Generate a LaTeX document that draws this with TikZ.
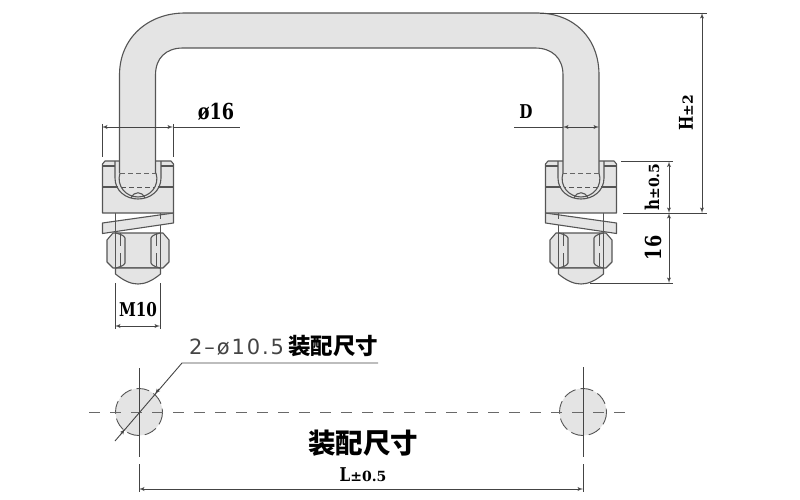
\documentclass[tikz,border=0pt]{standalone}
\usepackage{fontspec}
\usepackage{tikz}
\usetikzlibrary{arrows}
\usetikzlibrary{positioning}
\newfontfamily\dimfont[FakeStretch=0.8]{DejaVu Serif}
\newfontfamily\tolfont{DejaVu Serif}
\newfontfamily\thinfont[LetterSpace=9]{DejaVu Sans}
\newfontfamily\cjkfont{Noto Sans CJK SC}
\definecolor{partfill}{HTML}{E4E4E4}
\definecolor{partline}{HTML}{555555}
\definecolor{dimline}{HTML}{444444}
\tikzstyle{part} = [draw=partline, fill=partfill, line width=1.1pt, line join=round]
\tikzstyle{edge} = [draw=partline, line width=1.1pt]
\tikzstyle{hidden} = [draw=partline, line width=0.9pt, dash pattern=on 5pt off 3pt]
\tikzstyle{dim} = [draw=dimline, line width=0.9pt]
\tikzstyle{centre} = [draw=dimline!80, line width=1pt, dash pattern=on 11pt off 10pt]
\tikzstyle{label} = [inner sep=0pt, text=black, font=\dimfont\bfseries\fontsize{19}{19}\selectfont]
\tikzstyle{cjk} = [inner sep=0pt, text=black, font=\cjkfont\bfseries]
\newcommand{\tol}[1]{{\tolfont\fontsize{14}{14}\selectfont #1}}
% One clamp with nut; xscale=-1 mirrors it for the right side
\newcommand{\clampset}[2]{
  \begin{scope}[shift={(#1,0)}, xscale=#2]
    \path [part] (-31,240) -- (-25,233) -- (25,233) -- (31,240) -- (31,262) -- (25,268) -- (-25,268) -- (-31,262) -- cycle;
    \path [part] (-22.5,268) -- (-22.5,274) .. controls (-14,281) and (-7,284) .. (0,284) .. controls (7,284) and (14,281) .. (22.5,274) -- (22.5,268) -- cycle;
    \path [edge] (-22,233) .. controls (-19,234) and (-14,235) .. (-13,238) -- (-13,263) .. controls (-14,266) and (-19,267) .. (-22,268);
    \path [edge] (22,233) .. controls (19,234) and (14,235) .. (13,238) -- (13,263) .. controls (14,266) and (19,267) .. (22,268);
    \path [edge] (-22.5,213) -- (-22.5,268);
    \path [edge] (22.5,213) -- (22.5,268);
    \path [hidden, dash pattern=on 13pt off 7pt] (-18,233) -- (-18,268);
    \path [hidden, dash pattern=on 13pt off 7pt] (18,233) -- (18,268);
    \path [part] (-35.5,223) -- (35.5,213) -- (35.5,223) -- (-35.5,233.5) -- cycle;
    \path [edge] (-22.5,213) -- (-22.5,233);
    \path [edge] (22.5,213) -- (22.5,219);
    % block with the socket for the tube
    \path [part] (-35.5,164) -- (-33,161) -- (33,161) -- (35.5,164) -- (35.5,213) -- (-35.5,213) -- cycle;
    \path [edge] (-35.5,166) -- (-23,166);
    \path [edge] (23,166) -- (35.5,166);
    \path [edge] (-35.5,187) -- (-20,187);
    \path [edge] (20,187) -- (35.5,187);
    \path [hidden] (-17,187) -- (17,187);
    \path [edge] (-23,161) -- (-23,178) .. controls (-23,191) and (-12,199) .. (0,199) .. controls (12,199) and (23,191) .. (23,178) -- (23,161);
    \path [edge] (-18,173) .. controls (-22,186) and (-12,197) .. (0,197) .. controls (12,197) and (22,186) .. (18,173);
    \path [edge] (-7,198) .. controls (-4,191) and (4,191) .. (7,198);
    \path [hidden] (-18,173) -- (18,173);
  \end{scope}
}

\begin{document}
\begin{tikzpicture}[x=1pt, y=-1pt, >=latex']
    \useasboundingbox (0,0) rectangle (800,500);

    % We start with the two clamps and the tube over them
    \clampset{138}{1}
    \clampset{581}{-1}
    \path [fill=partfill] (119.5,173) -- (119.5,75) .. controls (119.5,38) and (148,13) .. (185,13) -- (537,13) .. controls (574,13) and (599,38) .. (599,75) -- (599,173) -- (563,173) -- (563,75) .. controls (563,58) and (552,48) .. (535,48) -- (183,48) .. controls (166,48) and (155.5,58) .. (155.5,75) -- (155.5,173) -- cycle;
    \path [edge] (119.5,173) -- (119.5,75) .. controls (119.5,38) and (148,13) .. (185,13) -- (537,13) .. controls (574,13) and (599,38) .. (599,75) -- (599,173);
    \path [edge] (155.5,173) -- (155.5,75) .. controls (155.5,58) and (166,48) .. (183,48) -- (535,48) .. controls (552,48) and (563,58) .. (563,75) -- (563,173);

    % The mounting holes below
    \node [circle, fill=partfill, minimum size=47pt, inner sep=0pt] (holeL) at (139,412) {};
    \node [circle, fill=partfill, minimum size=47pt, inner sep=0pt] (holeR) at (583,412) {};
    \draw [hidden, dash pattern=on 13pt off 5pt] (139,412) circle (23.5);
    \draw [hidden, dash pattern=on 13pt off 5pt] (583,412) circle (23.5);
    \coordinate (axisA) at (89,412);
    \coordinate (axisB) at (628,412);
    \draw [centre] (axisA) -- (axisB);

    \coordinate (holeLtop) at (139,368);
    \coordinate (holeLbot) at (139,457);
    \coordinate (extLa) at (139,464);
    \coordinate (extLb) at (139,492);
    \coordinate (holeRtop) at (583,367);
    \coordinate (holeRbot) at (583,457);
    \coordinate (extRa) at (583,464);
    \coordinate (extRb) at (583,492);
    \draw [dim] (holeLtop) -- (holeLbot);
    \draw [dim] (extLa) -- (extLb);
    \draw [dim] (holeRtop) -- (holeRbot);
    \draw [dim] (extRa) -- (extRb);

    \coordinate (dimLa) at (139,489);
    \coordinate (dimLb) at (583,489);
    \draw [dim, <->] (dimLa) -- (dimLb);
    \node [cjk, font=\cjkfont\bfseries\fontsize{27.5}{27.5}\selectfont] (fitText) at (363,443) {装配尺寸};
    \node [label, below=11pt of fitText] (lenText) {L\tol{±0.5}};

    % Leader for the hole size
    \coordinate (leadA) at (115,441);
    \coordinate (leadB) at (182,363);
    \coordinate (leadC) at (378,363);
    \draw [dim] (leadA) -- (leadB) -- (leadC);
    \draw [dim, ->] (121,434) -- (125,429);
    \draw [dim, ->] (159,389) -- (155,394);
    \node [inner sep=0pt, anchor=base west, font=\thinfont\fontsize{21}{21}\selectfont, text=dimline] (holeText) at (189,354) {2–ø10.5};
    \node [cjk, font=\cjkfont\bfseries\fontsize{22.5}{22.5}\selectfont, anchor=west] (holeFit) at (288,346) {装配尺寸};

    % Tube diameter
    \coordinate (dAa) at (102,124);
    \coordinate (dAb) at (102,157);
    \coordinate (dBa) at (173,124);
    \coordinate (dBb) at (173,157);
    \coordinate (dEnd) at (240,127);
    \draw [dim] (dAa) -- (dAb);
    \draw [dim] (dBa) -- (dBb);
    \draw [dim, <->] (102,127) -- (173,127);
    \draw [dim] (173,127) -- (dEnd);
    \node [label, font=\dimfont\bfseries\fontsize{22}{22}\selectfont] (tubeText) at (216,112) {ø16};

    % Tube width on the right
    \coordinate (wA) at (514,127);
    \coordinate (wB) at (563,127);
    \coordinate (wC) at (599,127);
    \draw [dim] (wA) -- (wB);
    \draw [dim, <->] (wB) -- (wC);
    \node [label] (wText) at (526,112) {D};

    % Bolt size
    \coordinate (mA) at (115,283);
    \coordinate (mAb) at (115,329);
    \coordinate (mB) at (160,283);
    \coordinate (mBb) at (160,329);
    \draw [dim] (mA) -- (mAb);
    \draw [dim] (mB) -- (mBb);
    \draw [dim, <->] (115,326) -- (160,326);
    \node [label] (mText) at (138,310) {M10};

    % Heights on the right
    \coordinate (topA) at (540,13);
    \coordinate (topB) at (707,13);
    \coordinate (baseA) at (623,213);
    \coordinate (baseB) at (707,213);
    \coordinate (blockA) at (621,161.5);
    \coordinate (blockB) at (673,161.5);
    \coordinate (nutA) at (590,283);
    \coordinate (nutB) at (673,283);
    \draw [dim] (topA) -- (topB);
    \draw [dim] (baseA) -- (baseB);
    \draw [dim] (blockA) -- (blockB);
    \draw [dim] (nutA) -- (nutB);
    \draw [dim, <->] (702,13) -- (702,213);
    \draw [dim, <->] (669,161.5) -- (669,213);
    \draw [dim, <->] (669,213) -- (669,283);
    \node [label, rotate=90] (hText) at (686,113) {H\tol{±2}};
    \node [label, rotate=90] (blockText) at (652,187) {h\tol{±0.5}};
    \node [label, rotate=90, font=\dimfont\bfseries\fontsize{22}{22}\selectfont] (nutText) at (653,248) {16};
\end{tikzpicture}
\end{document}
